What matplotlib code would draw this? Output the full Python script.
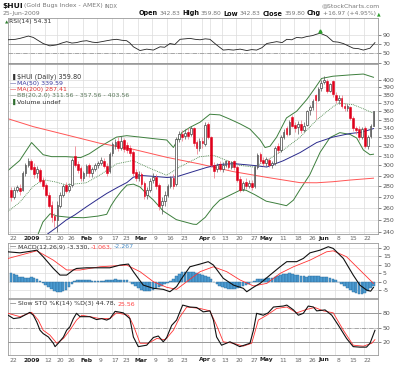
import matplotlib
matplotlib.use("Agg")
import matplotlib.pyplot as plt
import matplotlib.transforms as mtrans
import numpy as np

# ---------------- data ----------------
# daily candles, index 0 = 22 Dec 2008 ... 125 = 25 Jun 2009
opens = [276, 270, 276, 278, 276, 292, 300, 305, 298, 292, 295, 286, 281, 272, 263, 253, 250, 262, 272, 281,
         276, 281, 310, 301, 297, 288, 292, 300, 292, 296, 300, 302, 305, 299, 294, 313, 320, 326, 318, 327,
         321, 318, 314, 293, 288, 291, 283, 272, 276, 286, 289, 281, 263, 266, 272, 280, 288, 282, 328, 333,
         331, 336, 334, 340, 325, 318, 326, 322, 345, 330, 300, 296, 301, 296, 300, 304, 298, 304, 298, 287,
         277, 284, 280, 283, 280, 298, 312, 306, 302, 306, 300, 302, 320, 316, 330, 340, 334, 353, 344, 341,
         345, 338, 344, 361, 365, 380, 374, 389, 397, 399, 386, 398, 380, 374, 377, 367, 364, 365, 352, 340,
         339, 330, 340, 320, 331, 342.83]
highs = [279, 279, 281, 282, 294, 302, 308, 307, 302, 299, 297, 289, 283, 274, 266, 256, 266, 274, 282, 284,
         283, 308, 320, 304, 299, 294, 301, 302, 298, 302, 305, 309, 308, 302, 314, 325, 328, 330, 331, 329,
         325, 321, 316, 296, 294, 293, 285, 279, 288, 292, 291, 283, 270, 275, 282, 290, 291, 330, 337, 338,
         339, 340, 343, 341, 327, 329, 330, 347, 347, 331, 303, 302, 304, 303, 306, 306, 305, 306, 300, 290,
         285, 288, 286, 286, 300, 313, 314, 309, 309, 308, 305, 320, 324, 332, 339, 342, 349, 356, 347, 348,
         350, 347, 362, 368, 375, 382, 390, 400, 405, 401, 396, 400, 384, 380, 380, 370, 369, 366, 354, 343,
         342, 341, 342, 332, 345, 359.80]
lows = [266, 268, 274, 272, 275, 290, 298, 295, 288, 288, 283, 277, 270, 260, 248, 244, 240, 260, 270, 273,
        274, 279, 298, 292, 285, 285, 290, 289, 289, 294, 297, 300, 297, 290, 292, 310, 317, 315, 316, 314,
        313, 310, 290, 285, 285, 279, 268, 268, 274, 283, 277, 258, 255, 262, 270, 278, 277, 280, 325, 326,
        328, 328, 331, 320, 312, 315, 318, 320, 328, 298, 288, 293, 294, 293, 298, 296, 296, 295, 284, 274,
        275, 277, 278, 276, 278, 296, 302, 299, 299, 298, 297, 300, 313, 314, 328, 331, 332, 341, 336, 333,
        335, 336, 342, 356, 362, 351, 372, 386, 394, 383, 384, 378, 370, 369, 364, 360, 360, 350, 337, 334,
        327, 328, 318, 317, 329, 342.83]
closes = [270, 276, 279, 275, 292, 300, 304, 296, 291, 296, 285, 280, 272, 262, 252, 250, 263, 272, 280, 275,
          280, 306, 300, 295, 288, 292, 299, 292, 296, 300, 302, 306, 299, 292, 312, 322, 325, 318, 326, 317,
          316, 313, 292, 288, 291, 282, 271, 276, 285, 289, 280, 262, 266, 272, 280, 288, 280, 328, 334, 330,
          335, 331, 340, 324, 318, 326, 323, 344, 330, 300, 294, 300, 296, 300, 304, 298, 303, 298, 286, 276,
          283, 280, 283, 279, 298, 311, 305, 302, 307, 300, 302, 318, 316, 330, 336, 334, 347, 343, 340, 345,
          338, 343, 360, 365, 372, 374, 388, 396, 400, 386, 394, 382, 374, 377, 367, 364, 366, 352, 340, 338,
          330, 339, 320, 330, 342.83, 359.80]

# overlays, sampled as (day index, value)
ma50_day = [12.5, 16, 19, 22, 26, 29.5, 33, 37, 40, 42.2, 45, 50, 53.7, 57, 63, 67.5, 72, 77, 83.6, 88.2,
            93.9, 99.7, 105.4, 111, 116.9, 121, 125]
ma50_val = [238, 244, 249.6, 254, 261, 267, 273, 279, 283.3, 288.4, 290, 289, 288.1, 288.7, 294, 298, 301,
            301.8, 300, 298.4, 304.8, 313.3, 324, 330, 334, 335.5, 339.59]
ma200_day = [-1, 7.7, 19.2, 30.7, 42.2, 53.7, 65.2, 76.7, 88.2, 99.7, 105.4, 111, 116.9, 125]
ma200_val = [351, 341.8, 332.4, 323.2, 316.7, 308.3, 301.4, 293.8, 288.2, 283.1, 283, 284, 285.6, 287.41]
bb_up_day = [-1, 3, 7.1, 11.1, 14, 19, 24, 27, 30.7, 36.4, 39.9, 44.5, 50, 53.7, 56, 58.9, 61.7, 65.2, 68.6,
             72, 75.5, 79, 82.4, 85.9, 87.6, 89.3, 91.6, 95, 98.5, 102, 104.8, 107.1, 111, 116.9, 121.5, 125]
bb_up_val = [295, 305, 324, 311, 309, 309, 308, 312, 319.6, 330, 331.6, 330, 328, 326.8, 318.7, 335, 341, 347,
             356.4, 355.6, 350.5, 345, 339, 327, 318.6, 320, 330, 352, 360, 374.5, 389, 402, 405, 406.8, 408,
             403.56]
bb_mid_day = [-1, 3, 7.7, 11, 15, 19, 26, 30.7, 36.4, 42, 48, 53.7, 58.3, 65, 69.8, 74.4, 79, 83.6, 88.2,
              93.9, 99.7, 105.4, 111, 113, 118, 121.5, 125]
bb_mid_val = [257, 265, 279.6, 286, 284, 281, 283, 290.6, 301.6, 305, 297, 290.2, 298.7, 308.8, 310.5, 305,
              300, 298.4, 305, 316, 330, 349.6, 365.5, 370, 368, 363, 357.56]
bb_lo_day = [-1, 9, 11, 13.5, 16, 20, 25, 30, 33, 34.5, 36, 38, 40, 42.2, 44.5, 47, 49, 51, 52.5, 57, 62.8,
             64, 67, 69.7, 72, 76.7, 79, 81, 84, 88, 91.6, 95, 97.4, 99.7, 103, 106.6, 110, 113.4, 116.9,
             119.2, 121.5, 123.8, 125]
bb_lo_val = [225, 236, 248, 255, 253, 252, 251.6, 253, 254.5, 262, 268, 275, 280.8, 281.7, 279, 272, 267.3,
             261.6, 257.3, 250, 246.2, 246, 252, 261, 267, 273, 276, 276, 272, 266, 264, 262, 267, 276.8,
             290.6, 313.6, 329.5, 335, 333, 329, 316, 311, 311.56]

# RSI line as it sits against the panel's own 30/50/70/90 scale
rsi_day = [-1, 1.5, 3.1, 6, 7.7, 9.5, 11.1, 13.4, 15.7, 17.5, 19.2, 21, 22.6, 24.5, 26.1, 28, 29.5, 31.3, 33,
           34.8, 36.4, 38.2, 39.9, 41, 42.2, 44.5, 46.8, 49.1, 51.4, 53, 54.8, 56.5, 58.3, 60, 61.7, 63.5, 65.2,
           67, 68.6, 70.9, 73.2, 75, 76.7, 79, 81.3, 83, 84.7, 86.5, 88.2, 91.6, 93.5, 95.1, 96.8, 98.5, 100.3,
           102, 104, 105.4, 106.6, 108.9, 111.1, 112.8, 114.6, 116.3, 118, 119.8, 121.5, 123.8, 125.5]
rsi_val = [79, 80, 82, 87, 84, 77, 71, 66, 68, 72, 75, 72, 73, 76, 77, 74, 73, 75, 77, 79, 80, 78, 77, 72, 64,
           56, 59, 57, 64, 63, 71, 69, 80, 81, 82, 80, 79, 81, 80, 68, 57, 58, 57, 59, 56, 58, 57, 62, 71, 75,
           73, 80, 79, 84, 83, 86, 88, 91, 93, 87, 75, 74, 71, 66, 61, 60, 57, 61, 73]

macd_day = [-1, 3.1, 7.7, 8.9, 11.1, 14.6, 16.9, 19.2, 21.5, 22.6, 26.1, 34.1, 37.6, 40.5, 42.2, 45.6, 49.1,
            52.5, 54.8, 57.1, 58.9, 61.7, 65.2, 68, 69.8, 73.2, 76.7, 80.1, 81.3, 83.6, 85.9, 89.3, 92.8, 95.1,
            98.5, 100.8, 103.1, 106.6, 109.4, 111.1, 114.6, 118, 120.3, 122.6, 124, 125]
macd_val = [17.6, 17.0, 18.2, 18.6, 14.7, 7.8, 3.9, 3.9, 6.9, 7.8, 8.2, 8.2, 9.8, 10.4, 5.9, -2.0, -3.9, -4.5,
            -5.9, -2.9, 2.0, 8.8, 10.4, 11.8, 9.8, 2.0, -2.0, -3.9, -5.9, -3.3, -1.0, 3.9, 8.8, 11.8, 11.8,
            13.7, 17.0, 18.6, 20.6, 19.6, 13.7, 3.9, -2.0, -4.9, -5.6, -3.33]
sig_day = [-1, 8.9, 14.6, 19.2, 23.8, 30.7, 39.9, 44.5, 49.1, 53.7, 57.1, 60.6, 65.2, 69.8, 74.4, 79, 83.6,
           88.2, 92.8, 97.4, 103.1, 108.8, 111.1, 115.7, 120.3, 123.8, 125]
sig_val = [13.7, 18.2, 12.7, 6.9, 6.9, 8.8, 9.8, 5.9, 0.0, -3.3, -4.5, 0.0, 5.9, 8.8, 5.9, 1.0, -2.5, -1.0,
           4.9, 8.8, 12.7, 17.6, 18.2, 14.7, 6.9, 1.0, -1.063]
hist = [5.0, 4.6, 4.2, 3.0, 2.6, 2.4, 2.4, 2.6, 2.2, 1.4, 0.6, -0.6, -1.8, -3.0, -4.2, -5.2, -5.8, -6.0, -5.6,
        -4.6, -3.0, -1.2, 0.3, 0.8, 1.0, 1.2, 1.0, 0.8, 0.6, 0.4, 0.2, 0.4, 0.6, 0.8, 1.0, 1.2, 1.4, 1.2, 1.0,
        1.2, 0.8, -0.4, -1.6, -2.8, -3.8, -4.6, -5.2, -5.6, -5.4, -4.8, -3.8, -3.0, -2.4, -1.6, -0.6, 0.6, 1.8,
        3.6, 4.8, 5.6, 6.0, 6.0, 5.8, 5.6, 5.0, 4.6, 4.0, 3.6, 2.8, 1.4, -0.2, -1.4, -2.6, -3.4, -4.0, -4.4,
        -4.4, -4.2, -3.8, -3.2, -2.6, -1.8, -1.2, -0.4, 0.6, 1.4, 1.6, 1.8, 2.0, 2.2, 2.4, 3.0, 3.6, 4.0, 4.4,
        4.8, 5.0, 4.6, 4.2, 3.8, 3.4, 3.2, 3.0, 3.2, 3.4, 3.6, 3.4, 3.0, 2.6, 2.8, 2.4, 1.6, 0.8, -0.2, -1.4,
        -2.8, -4.0, -5.0, -6.0, -6.8, -7.2, -7.4, -6.8, -5.6, -4.0, -2.267]

stok_day = [-1, 0.9, 3.1, 6.5, 7.7, 8.9, 10, 11.1, 12.9, 14.6, 15.2, 16.3, 18.1, 19.2, 20.3, 21.5, 22.6, 23.8,
            27.2, 29.5, 31.3, 33, 34.1, 35.9, 38.7, 41, 42.2, 43.9, 46.8, 49.1, 50.8, 52.5, 53.7, 55.4, 57.1,
            59.2, 61.7, 64, 66.3, 68.6, 69.8, 70.9, 72.6, 75.5, 78.9, 82.4, 83.6, 84.7, 87, 88.7, 90.5, 93.9,
            95.1, 97.4, 99.1, 100.8, 102.5, 104.3, 105.4, 108.3, 110.6, 112.9, 115.7, 118, 120.3, 122.6, 123.8,
            125.5]
stok_val = [76, 69, 71, 82, 76, 62, 45, 38, 31, 18, 11, 18, 31, 45, 52, 69, 80, 73, 73, 67, 69, 66, 69, 84,
            81, 69, 31, 11, 14, 30, 33, 21, 30, 55, 66, 97, 93, 92, 83, 85, 66, 31, 14, 21, 11, 18, 45, 80, 76,
            81, 93, 95, 97, 87, 76, 80, 95, 93, 85, 87, 76, 55, 28, 11, 10, 10, 18, 44.78]
stod_day = [-1, 3.1, 7.1, 9.4, 11.1, 13.4, 15.8, 18.1, 20.3, 22.6, 24.4, 27.2, 30.7, 34.1, 36.4, 40.5, 42.2,
            44.5, 47.4, 50.3, 53.2, 56, 58.3, 60.6, 65.2, 68.6, 70.9, 73.2, 76.7, 80.1, 83, 85.3, 88.2, 91.6,
            95.1, 98.5, 101.9, 104.8, 107.7, 111.1, 114.6, 118, 121.5, 124.4, 125.5]
stod_val = [80, 73, 82, 66, 45, 35, 18, 28, 45, 66, 76, 73, 69, 69, 81, 76, 55, 18, 18, 28, 25, 45, 73, 93,
            90, 85, 55, 21, 18, 12, 18, 66, 76, 90, 93, 81, 88, 92, 85, 81, 45, 14, 12, 18, 25.56]

tick_day = [0, 7, 12, 16, 20, 25, 30, 35, 39, 44, 49, 54, 59, 66, 69, 73, 78, 83, 87, 93, 98, 103, 107, 112,
            117, 122]
tick_lbl = ['22', '2009', '12', '20', '26', 'Feb', '9', '17', '23', 'Mar', '9', '16', '23', 'Apr', '6', '13',
            '20', '27', 'May', '11', '18', '26', 'Jun', '8', '15', '22']
bold_lbl = ['2009', 'Feb', 'Mar', 'Apr', 'May', 'Jun']

# ---------------- figure ----------------
W, H = 400, 365
fig = plt.figure(figsize=(4, 3.65), dpi=100)
fig.patch.set_facecolor('white')
renderer = fig.canvas.get_renderer()

RED = '#e0001b'
GRID = '#dcdcdc'
GREEN = '#3d7f3d'


def box(top, bottom, left=8, right=378):
    return [left / W, 1 - bottom / H, (right - left) / W, (bottom - top) / H]


def ptext(x, y, s, **kw):
    kw.setdefault('fontsize', 4.5)
    kw.setdefault('va', 'center')
    kw.setdefault('color', '#333333')
    return fig.text(x / W, 1 - y / H, s, **kw)


def run_text(x, y, pieces, gap=1.5, right=None):
    # lay out text pieces one after another; optionally right-align the row
    arts = []
    for s, kw in pieces:
        t = ptext(x, y, s, **kw)
        bb = t.get_window_extent(renderer)
        x = bb.x1 + gap
        arts.append(t)
    if right is not None:
        shift = (right - (x - gap)) / W
        for t in arts:
            px, py = t.get_position()
            t.set_position((px + shift, py))


def style(ax, yticks, ylabels=None):
    ax.set_xlim(-1.03, 126.55)
    for s in ax.spines.values():
        s.set_color('#9a9a9a')
        s.set_linewidth(0.6)
    ax.yaxis.tick_right()
    ax.set_yticks(yticks)
    ax.set_yticklabels(ylabels if ylabels is not None else [str(t) for t in yticks])
    ax.yaxis.set_minor_locator(plt.NullLocator())
    ax.tick_params(axis='y', labelsize=4.5, colors='#555555', length=2, width=0.5, pad=1.5)
    ax.set_xticks([])
    for d in tick_day:
        ax.axvline(d - 0.3, color=GRID, lw=0.5, zorder=0)
    for t in yticks:
        ax.axhline(t, color=GRID, lw=0.5, zorder=0)


def date_labels(y):
    tr = mtrans.blended_transform_factory(ax_px.transData, fig.transFigure)
    for d, s in zip(tick_day, tick_lbl):
        b = s in bold_lbl
        dx = 0.2 if s == '2009' else (0.7 if s == 'Apr' else 0.9)
        ax_px.text(d + dx, 1 - y / H, s, transform=tr, fontsize=4.3, ha='center', va='center',
                   color='#222222' if b else '#666666', fontweight='bold' if b else 'normal', clip_on=False)


ax_rsi = fig.add_axes(box(18, 64))
ax_px = fig.add_axes(box(64, 234))
ax_macd = fig.add_axes(box(243, 298))
ax_sto = fig.add_axes(box(299, 355))

# ---- header ----
run_text(2, 6, [('$HUI', dict(fontsize=5.4, fontweight='bold', color='#111111')),
                ('(Gold Bugs Index - AMEX)', dict(color='#777777', fontsize=4.4)),
                ('INDX', dict(fontsize=3.8, color='#777777'))], gap=1.5)
ptext(380, 6, '@StockCharts.com', ha='right', color='#777777', fontsize=4.4)
ptext(3, 13.5, '25-Jun-2009', color='#777777', fontsize=4.4)
B = dict(fontweight='bold', color='#111111', fontsize=4.7)
V = dict(color='#777777', fontsize=4.3)
run_text(150, 13.5, [('Open', B), ('342.83', V), ('High', B), ('359.80', V), ('Low', B), ('342.83', V),
                     ('Close', B), ('359.80', V), ('Chg', B), ('+16.97 (+4.95%)', V),
                     ('\u25b2', dict(fontsize=3.4, color='#2e9e2e'))], gap=1.8, right=381)

# ---- RSI ----
style(ax_rsi, [30, 50, 70, 90])
ax_rsi.set_ylim(27.2, 125.6)
ax_rsi.axhline(70, color='#8c8c8c', lw=0.6, zorder=1)
ax_rsi.axhline(30, color='#8c8c8c', lw=0.6, zorder=1)
ax_rsi.axhline(50, color='#8c8c8c', lw=0.5, ls='-.', zorder=1)
ax_rsi.plot(rsi_day, rsi_val, color='#222222', lw=0.6, zorder=3)
ax_rsi.plot([106.6], [97], marker='^', ms=2.2, color='#2e9e2e', zorder=4)
ptext(5, 22, '\u25b2', fontsize=3.2, color='#2e7d2e')
ptext(9, 22, 'RSI(14) 54.31', color='#333333')

# ---- price ----
ax_px.set_yscale('log')
style(ax_px, list(range(240, 401, 10)))
ax_px.set_ylim(238.2, 422)
ax_px.plot(bb_up_day, bb_up_val, color=GREEN, lw=0.7, zorder=2)
ax_px.plot(bb_lo_day, bb_lo_val, color=GREEN, lw=0.7, zorder=2)
ax_px.plot(bb_mid_day, bb_mid_val, color=GREEN, lw=0.6, ls=(0, (1, 1.2)), zorder=2)
ax_px.plot(ma200_day, ma200_val, color='#ff5555', lw=0.7, zorder=2)
ax_px.plot(ma50_day, ma50_val, color='#2a2a8c', lw=0.7, zorder=2)

o = np.array(opens, float)
c = np.array(closes, float)
hi = np.array(highs, float)
lo = np.array(lows, float)
x = np.arange(len(c))
up = c >= o
dn = ~up
ax_px.vlines(x[up], lo[up], hi[up], color='#555555', lw=0.5, zorder=3)
ax_px.vlines(x[dn], lo[dn], hi[dn], color='#f07080', lw=0.5, zorder=3)
ax_px.bar(x[up], c[up] - o[up], bottom=o[up], width=0.6, facecolor='white', edgecolor='#444444',
          lw=0.5, zorder=4)
ax_px.bar(x[dn], o[dn] - c[dn], bottom=c[dn], width=0.6, facecolor=RED, edgecolor=RED, lw=0.4, zorder=4)

leg_y = [77, 83.5, 90, 96, 102]
ptext(11, leg_y[0], '\u2590', fontsize=4.0, color='#333333')
ptext(17, leg_y[0], '$HUI (Daily) 359.80', fontsize=4.7, color='#333333')
ptext(10, leg_y[1], '\u2014', fontsize=4.6, color='#1c1c80')
ptext(17, leg_y[1], 'MA(50) 339.59', color='#3a3aa0')
ptext(10, leg_y[2], '\u2014', fontsize=4.6, color='#e00000')
ptext(17, leg_y[2], 'MA(200) 287.41', color='#e03030')
ptext(10, leg_y[3], '\u2014', fontsize=4.6, color='#7a8c7a')
ptext(17, leg_y[3], 'BB(20,2.0) 311.56 - 357.56 - 403.56', color='#5c7a5c')
ptext(11, leg_y[4], '\u2590', fontsize=4.0, color='#2e6e2e')
ptext(17, leg_y[4], 'Volume undef', color='#333333')
date_labels(238.5)

# ---- MACD ----
style(ax_macd, [-5, 0, 5, 10, 15, 20])
ax_macd.set_ylim(-9.6, 22.8)
ax_macd.bar(np.arange(len(hist)), hist, width=0.9, color='#4b9bd1', edgecolor='#2a6a9a', lw=0.3, zorder=2)
ax_macd.plot(sig_day, sig_val, color='#ff3333', lw=0.6, zorder=3)
ax_macd.plot(macd_day, macd_val, color='#111111', lw=0.8, zorder=4)
run_text(10, 247, [('\u2014', dict(fontsize=4.6, color='#111111')),
                   ('MACD(12,26,9) -3.330,', dict(color='#333333')),
                   ('-1.063,', dict(color='#ff4444')),
                   ('-2.267', dict(color='#4b8fc8'))], gap=1.5)

# ---- Slow stochastics ----
style(ax_sto, [20, 50, 80])
ax_sto.set_ylim(-6.3, 109.6)
ax_sto.axhline(80, color='#8c8c8c', lw=0.6, zorder=1)
ax_sto.axhline(20, color='#8c8c8c', lw=0.6, zorder=1)
ax_sto.axhline(50, color='#8c8c8c', lw=0.5, ls='-.', zorder=1)
ax_sto.plot(stod_day, stod_val, color='#ff3333', lw=0.6, zorder=3)
ax_sto.plot(stok_day, stok_val, color='#111111', lw=0.8, zorder=4)
run_text(10, 304, [('\u2014', dict(fontsize=4.6, color='#111111')),
                   ('Slow STO %K(14) %D(3) 44.78,', dict(color='#333333')),
                   ('25.56', dict(color='#ff4444'))], gap=1.5)
date_labels(360)

fig.savefig('out.png', dpi=100, facecolor='white')
